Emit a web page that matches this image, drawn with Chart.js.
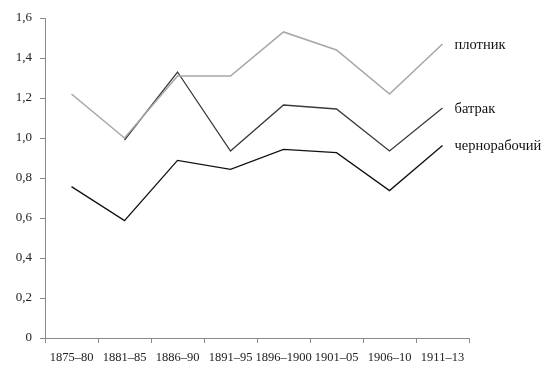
<!DOCTYPE html>
<html>
<head>
<meta charset="utf-8">
<script src="https://cdn.jsdelivr.net/npm/chart.js@4/dist/chart.umd.min.js"></script>
<style>
    html, body { margin: 0; padding: 0; background: #fff; }
    #wrap { width: 555px; height: 376px; }
</style>
</head>
<body>
<div id="wrap"><canvas id="wageChart" width="555" height="376"></canvas></div>
<script>
// DATA ---------------------------------------------------------------------------
const periods = ["1875–80", "1881–85", "1886–90", "1891–95", "1896–1900", "1901–05", "1906–10", "1911–13"];
const carpenter = [1.22, 1.00, 1.31, 1.31, 1.53, 1.44, 1.22, 1.47];
const farmhand = [null, 0.99, 1.33, 0.935, 1.165, 1.145, 0.935, 1.15];
const labourer = [0.757, 0.587, 0.888, 0.843, 0.943, 0.927, 0.737, 0.962];
const seriesNames = ["плотник", "батрак", "чернорабочий"];
const yTicks = [0, 0.2, 0.4, 0.6, 0.8, 1.0, 1.2, 1.4, 1.6];

const serif = "'Liberation Serif', 'DejaVu Serif', serif";
const axisColor = '#8a8a8a';

// labels at the right end of each line
const endLabels = {
    id: 'endLabels',
    afterDatasetsDraw(chart) {
        const ctx = chart.ctx;
        ctx.save();
        ctx.font = '14.5px ' + serif;
        ctx.fillStyle = '#111';
        ctx.textBaseline = 'middle';
        ctx.textAlign = 'left';
        chart.data.datasets.forEach((ds, i) => {
            const meta = chart.getDatasetMeta(i);
            const last = meta.data[meta.data.length - 1];
            ctx.fillText(ds.label, last.x + 12, last.y + 1);
        });
        ctx.restore();
    }
};

document.addEventListener('DOMContentLoaded', () => {
    const ctx = document.getElementById('wageChart').getContext('2d');

    new Chart(ctx, {
        type: 'line',
        data: {
            labels: periods,
            datasets: [
                { label: seriesNames[0], data: carpenter, borderColor: '#a8a8a8', borderWidth: 1.6 },
                { label: seriesNames[1], data: farmhand, borderColor: '#3a3a3a', borderWidth: 1.3 },
                { label: seriesNames[2], data: labourer, borderColor: '#111111', borderWidth: 1.3 }
            ]
        },
        options: {
            responsive: false,
            animation: false,
            layout: { padding: { top: 18, right: 86, left: 0, bottom: 0 } },
            elements: {
                point: { radius: 0, hoverRadius: 0 },
                line: { tension: 0, fill: false }
            },
            plugins: {
                legend: { display: false },
                tooltip: { enabled: false }
            },
            scales: {
                x: {
                    offset: true,
                    afterFit: scale => { scale.height = 38; },
                    grid: {
                        drawOnChartArea: false,
                        offset: true,
                        tickLength: 5,
                        tickColor: axisColor
                    },
                    border: { color: axisColor, dash: [1.5, 1.5], width: 1 },
                    ticks: {
                        color: '#222',
                        font: { family: serif, size: 12.5 },
                        maxRotation: 0,
                        autoSkip: false,
                        padding: 7
                    }
                },
                y: {
                    min: 0,
                    max: 1.6,
                    afterFit: scale => { scale.width = 45; },
                    afterBuildTicks: scale => { scale.ticks = yTicks.map(v => ({ value: v })); },
                    grid: {
                        drawOnChartArea: false,
                        tickLength: 5,
                        tickColor: axisColor
                    },
                    border: { color: axisColor, dash: [1.5, 1.5], width: 1 },
                    ticks: {
                        color: '#222',
                        font: { family: serif, size: 13 },
                        padding: 8,
                        callback: v => v === 0 ? '0' : v.toFixed(1).replace('.', ',')
                    }
                }
            }
        },
        plugins: [endLabels]
    });
});
</script>
</body>
</html>
